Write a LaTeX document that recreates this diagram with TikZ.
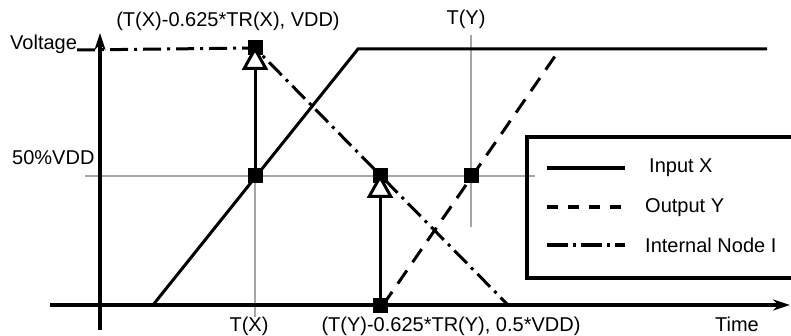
\documentclass[tikz,border=0pt]{standalone}
\usepackage{fontspec}
\setmainfont{Liberation Sans}
\usetikzlibrary{arrows.meta,backgrounds}
\definecolor{gridgray}{HTML}{A6A6A6}
\tikzset{
  >={Stealth[length=17pt,width=11pt]},
  % kurvor
  axis/.style={draw=black,line width=3.4pt},
  inx/.style={draw=black,line width=3pt},
  outy/.style={draw=black,line width=3pt,dash pattern=on 16pt off 10pt},
  nodei/.style={draw=black,line width=3pt,dash pattern=on 18pt off 6pt on 3pt off 6pt},
  guide/.style={draw=gridgray,line width=2.2pt},
  % markörer
  mk/.style={rectangle,fill=black,inner sep=0pt,minimum size=15pt},
  meas/.style={draw=black,line width=3pt,-{Triangle[length=24pt,width=26pt,fill=white]}},
  lbl/.style={font=\fontsize{20}{22}\selectfont,inner sep=0pt},
  legbox/.style={draw=black,line width=3.4pt},
}
\begin{document}
\begin{tikzpicture}[x=1pt,y=-1pt]
  \useasboundingbox (0,0) rectangle (791,336);
  % markörer
  \node[mk] (tophi) at (255,48) {};
  \node[mk] (xmid) at (255,176) {};
  \node[mk] (imid) at (380,176) {};
  \node[mk] (ilo) at (380,305) {};
  \node[mk] (ymid) at (471,176) {};
  % texter
  \node[lbl,anchor=base west] (vlab) at (10,50) {Voltage};
  \node[lbl,anchor=base west] (half) at (12,165) {50\%VDD};
  \node[lbl,anchor=base] (topl) at (228,27) {(T(X)-0.625*TR(X), VDD)};
  \node[lbl,anchor=base] (tyl) at (466,25) {T(Y)};
  \node[lbl,anchor=base] (txl) at (249,331) {T(X)};
  \node[lbl,anchor=base] (botl) at (451,331) {(T(Y)-0.625*TR(Y), 0.5*VDD)};
  \node[lbl,anchor=base] (timel) at (737,331) {Time};
  \begin{scope}[on background layer]
  \draw[guide] (85,176) -- (535,176);
  \draw[guide] (tophi.center) -- (255,317);
  \draw[guide] (471,35) -- (471,227);
  \draw[axis,->] (100,330) -- (100,33);
  \draw[axis,->] (50,305) -- (790,305);
  \draw[inx] (153,305) -- (358,49) -- (767,49);
  \draw[outy] (383,305) -- (560,49);
  \draw[nodei] (vlab.base east) -- (tophi.center) -- (508,305);
  \end{scope}
  \draw[meas] (xmid.center) -- ([yshift=2pt]tophi.center);
  \draw[meas] (ilo.center) -- ([yshift=2pt]imid.center);
  % legend
  \draw[legbox] (791,137) -| (527,278) -- (791,278);
  \node[lbl,anchor=base west] (lgx) at (649,173) {Input X};
  \node[lbl,anchor=base west] (lgy) at (645,213) {Output Y};
  \node[lbl,anchor=base west] (lgi) at (645,252) {Internal Node I};
  \draw[inx,line width=3.4pt] (547,168) -- (625,168);
  \draw[outy,line width=3.4pt,dash pattern=on 11pt off 10pt] (547,207) -- (625,207);
  \draw[nodei,line width=3.4pt,dash pattern=on 21pt off 5pt on 3pt off 5pt] (547,245) -- (625,245);
\end{tikzpicture}
\end{document}
